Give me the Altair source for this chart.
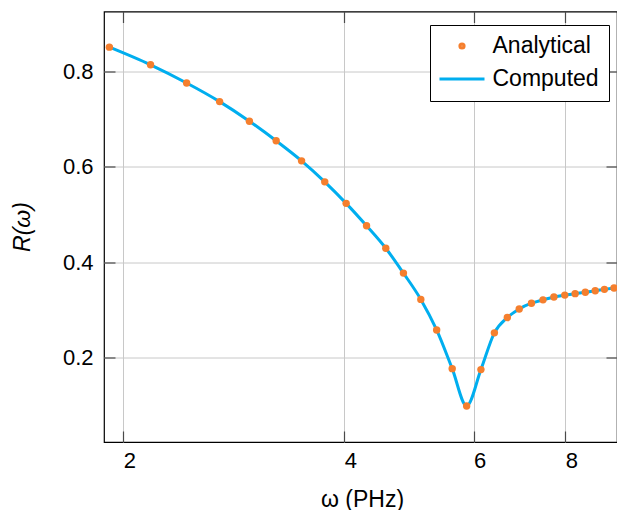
import altair as alt
import pandas as pd

# Analytical points (omega in PHz, R)
x_analytical = [1.915, 2.179, 2.440, 2.706, 2.971, 3.231, 3.499, 3.763, 4.024, 4.290,
                4.557, 4.816, 5.086, 5.345, 5.612, 5.872, 6.141, 6.406, 6.671, 6.925,
                7.196, 7.461, 7.721, 7.989, 8.252, 8.520, 8.789, 9.046, 9.322]
y_analytical = [0.850, 0.813, 0.775, 0.736, 0.695, 0.654, 0.612, 0.568, 0.523, 0.476,
                0.429, 0.377, 0.322, 0.258, 0.177, 0.099, 0.175, 0.252, 0.284, 0.302,
                0.314, 0.321, 0.327, 0.331, 0.334, 0.337, 0.340, 0.343, 0.346]

# Computed curve
x_computed = [1.915, 2.179, 2.440, 2.706, 2.971, 3.231, 3.499, 3.763, 4.024, 4.290,
              4.557, 4.816, 5.086, 5.345, 5.612, 5.872, 6.141, 6.406, 6.671, 6.925,
              7.196, 7.461, 7.721, 7.989, 8.252, 8.520, 8.789, 9.046, 9.322]
y_computed = [0.850, 0.813, 0.775, 0.736, 0.695, 0.654, 0.612, 0.568, 0.523, 0.476,
              0.429, 0.377, 0.322, 0.258, 0.177, 0.099, 0.175, 0.252, 0.284, 0.302,
              0.314, 0.321, 0.327, 0.331, 0.334, 0.337, 0.340, 0.343, 0.346]

series_names = ["Analytical", "Computed"]
x_ticks = [2, 4, 6, 8]
y_ticks = [0.2, 0.4, 0.6, 0.8]

ORANGE = "#F57F2E"
CYAN = "#00AEEF"
TICK = "#4a4a4a"
FONT = "Liberation Sans"

df_an = pd.DataFrame({"w": x_analytical, "R": y_analytical})
df_cp = pd.DataFrame({"w": x_computed, "R": y_computed, "series": "Computed"})

x_scale = alt.Scale(type="log", domain=[1.883, 9.41], nice=False, zero=False)
y_scale = alt.Scale(domain=[0.0235, 0.9246], nice=False, zero=False)


def tick_axis(orient):
    return alt.Axis(
        orient=orient, values=(x_ticks if orient in ("top", "bottom") else y_ticks),
        labels=False, grid=False, domain=False, ticks=True, tickSize=11,
        tickColor=TICK, tickWidth=1.2, offset=-11, title=None, zindex=1,
    )


# main axes (labels, grid, titles)
x_main = alt.X(
    "w:Q", scale=x_scale,
    axis=alt.Axis(
        orient="bottom", values=x_ticks, title="ω (PHz)", format="d", labelAlign="left",
        labelPadding=8, tickSize=0, ticks=False, domain=False, grid=True,
        titleX=258, titleY=64, titleBaseline="alphabetic",
    ),
)
y_main = alt.Y(
    "R:Q", scale=y_scale,
    axis=alt.Axis(
        orient="left", values=y_ticks, title="R(ω)", format=".1f", labelPadding=11,
        tickSize=0, ticks=False, domain=False, grid=True, titleFontStyle="italic",
        titleX=-75, titleY=215, titleBaseline="alphabetic", titleAngle=-90,
    ),
)

line = alt.Chart(df_cp).mark_line(
    strokeWidth=3, interpolate="monotone", clip=True
).encode(
    x=x_main,
    y=y_main,
    color=alt.Color(
        "series:N",
        scale=alt.Scale(domain=series_names, range=[ORANGE, CYAN]),
        legend=alt.Legend(
            title=None, orient="none", legendX=326, legendY=13.5,
            strokeColor="black", fillColor="white", padding=9.5,
            labelFont=FONT, labelFontSize=23, labelColor="black",
            symbolType=alt.ExprRef("datum.value === 'Computed' ? 'M-11.25,0H11.25' : 'circle'"),
            symbolSize=16, symbolStrokeWidth=3.2,
            symbolOffset=11, labelOffset=19, rowPadding=9, zindex=2,
        ),
    ),
)

points = alt.Chart(df_an).mark_point(
    filled=True, size=55, opacity=1, clip=True, color=ORANGE
).encode(
    x=alt.X("w:Q", scale=x_scale, axis=tick_axis("bottom")),
    y=alt.Y("R:Q", scale=y_scale, axis=tick_axis("left")),
)

ticks_tr = alt.Chart(df_an).mark_point(opacity=0).encode(
    x=alt.X("w:Q", scale=x_scale, axis=tick_axis("top")),
    y=alt.Y("R:Q", scale=y_scale, axis=tick_axis("right")),
)

chart = alt.layer(line, points, ticks_tr).resolve_axis(
    x="independent", y="independent"
).properties(
    width=513, height=430.5,
    autosize=alt.AutoSizeParams(type="none"),
    padding={"left": 96, "top": 3.5, "right": 0, "bottom": 68},
).configure_view(
    stroke="black", strokeWidth=1.2
).configure_axis(
    gridColor="#c8c8c8", gridWidth=1,
    labelFont=FONT, labelFontSize=22, labelColor="black",
    titleFont=FONT, titleFontSize=23, titleColor="black", titleFontWeight="normal",
)

chart.save("out.html", embed_options={"renderer": "svg", "actions": False})
